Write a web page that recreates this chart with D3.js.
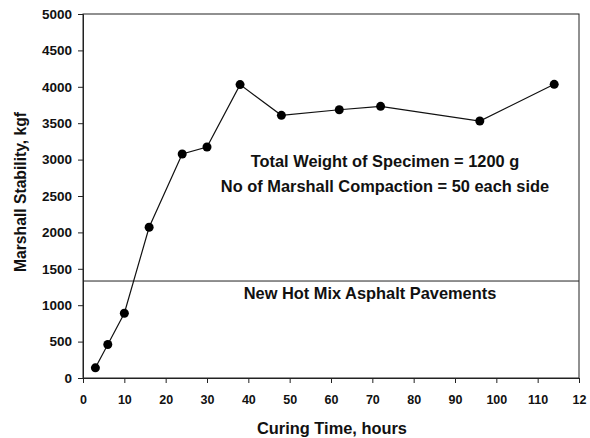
<!DOCTYPE html>
<html>
<head>
<meta charset="utf-8">
<script src="https://cdn.jsdelivr.net/npm/d3@7"></script>
<style>
  body { margin: 0; background: #fff; }
  text { font-family: "Liberation Sans", Arial, sans-serif; font-weight: bold; fill: #111; }
</style>
</head>
<body>
<div id="chart"></div>
<script>
// curing time (hours) and Marshall stability (kgf)
var hours = [3, 6, 10, 16, 24, 30, 38, 48, 62, 72, 96, 114];
var stability = [140, 460, 890, 2070, 3077, 3173, 4030, 3608, 3685, 3732, 3530, 4034];

var xTicks = [0, 10, 20, 30, 40, 50, 60, 70, 80, 90, 100, 110, 120];
var xTickLabels = ['0', '10', '20', '30', '40', '50', '60', '70', '80', '90', '100', '110', '12'];
var yTicks = [0, 500, 1000, 1500, 2000, 2500, 3000, 3500, 4000, 4500, 5000];

var hmaLimit = 1332; // new hot mix asphalt pavements line
var noteLines = ['Total Weight of Specimen = 1200 g', 'No of Marshall Compaction = 50 each side'];
var hmaLabel = 'New Hot Mix Asphalt Pavements';

var width = 590, height = 438;
var margin = { top: 14, right: 11, bottom: 60, left: 83 };

var svg = d3.select('#chart').append('svg')
    .attr('width', width)
    .attr('height', height);

var x = d3.scaleLinear().domain([0, 120]).range([margin.left, width - margin.right]);
var y = d3.scaleLinear().domain([0, 5000]).range([height - margin.bottom, margin.top]);

// frame
svg.append('rect')
    .attr('x', x(0)).attr('y', y(5000))
    .attr('width', x(120) - x(0)).attr('height', y(0) - y(5000))
    .attr('fill', 'none').attr('stroke', '#222').attr('stroke-width', 1);

// axes
var xAxis = d3.axisBottom(x).tickValues(xTicks).tickSize(5)
    .tickFormat(function (d, i) { return xTickLabels[i]; });
var yAxis = d3.axisLeft(y).tickValues(yTicks).tickSize(5).tickFormat(d3.format('d'));

var gx = svg.append('g')
    .attr('transform', 'translate(0,' + y(0) + ')')
    .call(xAxis);
gx.select('.domain').attr('stroke', '#222');
gx.selectAll('.tick line').attr('stroke', '#222');
gx.selectAll('.tick text').attr('font-size', 12.5).attr('y', 26).attr('dy', 0);

var gy = svg.append('g')
    .attr('transform', 'translate(' + x(0) + ',0)')
    .call(yAxis);
gy.select('.domain').attr('stroke', '#222');
gy.selectAll('.tick line').attr('stroke', '#222');
gy.selectAll('.tick text').attr('font-size', 13.5).attr('x', -11);

// axis titles
svg.append('text')
    .attr('x', 332).attr('y', 434)
    .attr('text-anchor', 'middle').attr('font-size', 16.4)
    .text('Curing Time, hours');

svg.append('text')
    .attr('transform', 'translate(26,192) rotate(-90)')
    .attr('text-anchor', 'middle').attr('font-size', 15.7)
    .text('Marshall Stability, kgf');

// reference line
svg.append('line')
    .attr('x1', x(0)).attr('x2', x(120))
    .attr('y1', y(hmaLimit)).attr('y2', y(hmaLimit))
    .attr('stroke', '#222').attr('stroke-width', 1);

svg.append('text')
    .attr('x', 370).attr('y', 299)
    .attr('text-anchor', 'middle').attr('font-size', 16.4)
    .text(hmaLabel);

// notes
svg.selectAll('.note')
    .data(noteLines)
    .enter().append('text')
    .attr('class', 'note')
    .attr('x', 385)
    .attr('y', function (d, i) { return 167 + i * 24.5; })
    .attr('text-anchor', 'middle').attr('font-size', 16.4)
    .text(function (d) { return d; });

// data line
var data = hours.map(function (h, i) { return { h: h, v: stability[i] }; });

var line = d3.line()
    .x(function (d) { return x(d.h); })
    .y(function (d) { return y(d.v); });

svg.append('path')
    .datum(data)
    .attr('d', line)
    .attr('fill', 'none')
    .attr('stroke', '#111')
    .attr('stroke-width', 1.2);

svg.selectAll('.pt')
    .data(data)
    .enter().append('circle')
    .attr('class', 'pt')
    .attr('cx', function (d) { return x(d.h); })
    .attr('cy', function (d) { return y(d.v); })
    .attr('r', 4.5)
    .attr('fill', '#000');
</script>
</body>
</html>
